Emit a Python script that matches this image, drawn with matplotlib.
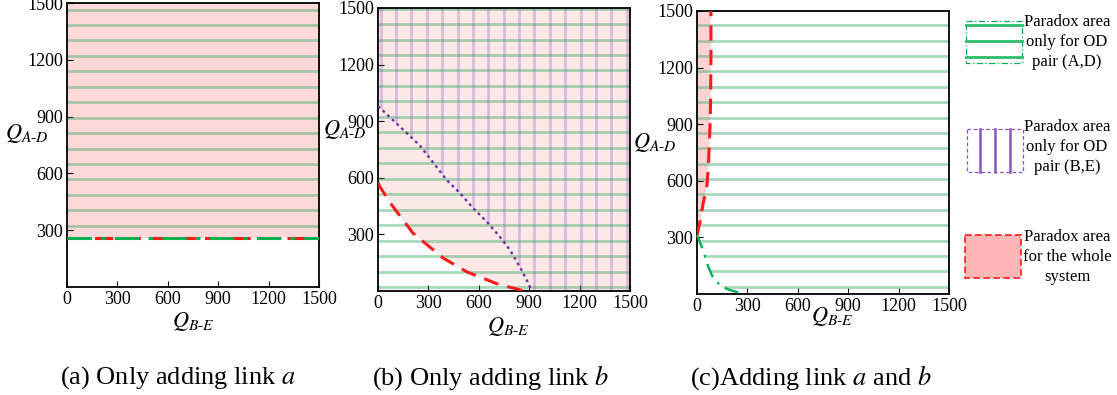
import numpy as np
import matplotlib
matplotlib.use('Agg')
import matplotlib.pyplot as plt
from matplotlib.patches import Polygon, Rectangle
from matplotlib.collections import LineCollection

plt.rcParams['font.family'] = 'serif'
plt.rcParams['font.serif'] = ['Liberation Serif', 'DejaVu Serif']
plt.rcParams['mathtext.fontset'] = 'stix'

# ---- data ----
ticks = [0, 300, 600, 900, 1200, 1500]
yticks = [300, 600, 900, 1200, 1500]
q_max = 1500

# (a) only adding link a: boundary is flat
a_boundary = 260

# (b) only adding link b
red_b_x = [0, 12, 82, 149, 208, 280, 387, 530, 607, 726, 827, 864]
red_b_y = [574, 551, 456, 376, 307, 254, 175, 101, 74, 32, 11, 0]
purple_b_x = [0, 120, 250, 409, 488, 565, 649, 726, 786, 830, 870, 895, 915]
purple_b_y = [980, 880, 770, 588, 519, 440, 366, 286, 217, 150, 85, 40, 0]

# (c) adding link a and b
red_c_x = [0, 18, 37, 58, 66, 72, 78, 81, 83, 83]
red_c_y = [312, 383, 482, 569, 650, 762, 900, 1028, 1250, 1500]
green_c_x = [0, 28, 48, 67, 97, 147, 196, 276]
green_c_y = [312, 251, 198, 145, 83, 39, 21, 0]

captions = ['(a) Only adding link $a$', '(b) Only adding link $b$',
            '(c)Adding link $a$ and $b$']
legend_texts = ['Paradox area\nonly for OD\npair (A,D)',
                'Paradox area\nonly for OD\npair (B,E)',
                'Paradox area\nfor the whole\nsystem']

# colours
green_hatch = '#2fa862'
purple_hatch = '#8a55c0'
red_line = '#ff1a1a'
green_line = '#00b050'
purple_line = '#7030a0'

fig = plt.figure(figsize=(11.17, 3.95), dpi=100)
W, H = 1117, 395


def px_axes(l, t, r, b):
    return fig.add_axes([l / W, 1 - b / H, (r - l) / W, (b - t) / H])


def style_axes(ax, ylab_pos, xlab_pos):
    ax.set_xlim(0, q_max)
    ax.set_ylim(0, q_max)
    ax.set_xticks(ticks)
    ax.set_yticks(yticks)
    ax.tick_params(direction='in', length=4, width=0.8, labelsize=13, pad=3)
    for s in ax.spines.values():
        s.set_linewidth(1.3)
    ax.set_ylabel(r'$Q_{A\text{-}D}$', fontsize=16, rotation=0, va='center', ha='center')
    ax.yaxis.set_label_coords(*ylab_pos)
    ax.set_xlabel(r'$Q_{B\text{-}E}$', fontsize=16, va='center', ha='center')
    ax.xaxis.set_label_coords(*xlab_pos)


def region(ax, xs, ys):
    # region above/right of a curve, closed through the top-right corner
    pts = list(zip(xs, ys)) + [(q_max, 0), (q_max, q_max), (0, q_max)]
    return Polygon(pts, closed=True, transform=ax.transData)


def hlines(ax, start, step, clip=None):
    ys = np.arange(start, q_max, step)
    lc = LineCollection([[(0, y), (q_max, y)] for y in ys], colors=green_hatch,
                        linewidths=2.0, alpha=0.42, zorder=2)
    ax.add_collection(lc)
    if clip is not None:
        lc.set_clip_path(clip)


def vlines(ax, start, step, clip=None):
    xs = np.arange(start, q_max, step)
    lc = LineCollection([[(x, 0), (x, q_max)] for x in xs], colors=purple_hatch,
                        linewidths=2.0, alpha=0.3, zorder=2)
    ax.add_collection(lc)
    if clip is not None:
        lc.set_clip_path(clip)


# ---- (a) ----
ax_a = px_axes(67, 3, 319, 287)
ax_a.fill_between([0, q_max], a_boundary, q_max, color='#ffd9d9', lw=0, zorder=1)
hlines(ax_a, 324, 81.5)
ax_a.plot([0, q_max], [a_boundary, a_boundary], color=red_line, lw=2.2, ls=(0, (6, 3)), zorder=3)
ax_a.plot([0, q_max], [a_boundary, a_boundary], color=green_line, lw=2.2, ls=(0, (8, 3, 1.5, 3)), zorder=4)
style_axes(ax_a, (-0.159, 0.542), (0.5, -0.123))

# ---- (b) ----
ax_b = px_axes(378, 8, 630, 291)
ax_b.add_patch(Polygon(list(zip(red_b_x, red_b_y)) + [(q_max, 0), (q_max, q_max), (0, q_max)],
                       closed=True, facecolor='#fde8e8', edgecolor='none', zorder=1))
hlines(ax_b, 21, 82)
vlines(ax_b, 16, 91.5, clip=region(ax_b, purple_b_x, purple_b_y))
ax_b.plot(red_b_x, red_b_y, color=red_line, lw=2.2, ls=(0, (5, 3)), zorder=4)
ax_b.plot(purple_b_x, purple_b_y, color=purple_line, lw=1.7, ls=(0, (1.2, 1.5)), zorder=4)
style_axes(ax_b, (-0.131, 0.569), (0.516, -0.127))

# ---- (c) ----
ax_c = px_axes(697, 11, 949, 294)
ax_c.add_patch(Polygon(list(zip(red_c_x, red_c_y)) + [(0, q_max)], closed=True,
                       facecolor='#ffd3d3', edgecolor='none', zorder=1))
hlines(ax_c, 39, 81.5, clip=region(ax_c, green_c_x, green_c_y))
ax_c.plot(red_c_x, red_c_y, color=red_line, lw=2.2, ls=(0, (5, 3)), zorder=4)
ax_c.plot(green_c_x, green_c_y, color=green_line, lw=1.7, ls=(0, (6, 3, 1, 3)),
          zorder=4, clip_on=False)
style_axes(ax_c, (-0.167, 0.534), (0.536, -0.078))

# ---- overlay for legend and captions (pixel coordinates) ----
ov = fig.add_axes([0, 0, 1, 1])
ov.set_xlim(0, W)
ov.set_ylim(H, 0)
ov.axis('off')
ov.patch.set_alpha(0)

# legend entry 1: green horizontal lines in dash-dot box
ov.add_patch(Rectangle((966, 21), 56, 42, fill=False, edgecolor=green_line, lw=0.9,
                       ls=(0, (5, 2, 1, 2))))
for yy in [25, 41, 57]:
    ov.plot([966, 1022], [yy, yy], color='#2ebd6b', lw=2.0)
# legend entry 2: purple vertical lines in dashed box
ov.add_patch(Rectangle((967, 129), 56, 43, fill=False, edgecolor='#8a55c0', lw=0.9,
                       ls=(0, (3, 2))))
for xx in [980, 995, 1010]:
    ov.plot([xx, xx], [129, 172], color='#8a55c0', lw=1.8)
# legend entry 3: pink area with red dashed border
ov.add_patch(Rectangle((965, 235), 56, 43, facecolor='#ffb6b6', edgecolor=red_line, lw=1.2,
                       ls=(0, (4, 2))))

for txt, yc in zip(legend_texts, [42, 147, 257]):
    ov.text(1067, yc, txt, ha='center', va='center', fontsize=12, linespacing=1.35)

for txt, xc in zip(captions, [178, 491, 811]):
    ov.text(xc, 378, txt, ha='center', va='center', fontsize=19)

fig.savefig('out.png', dpi=100, facecolor='white')
